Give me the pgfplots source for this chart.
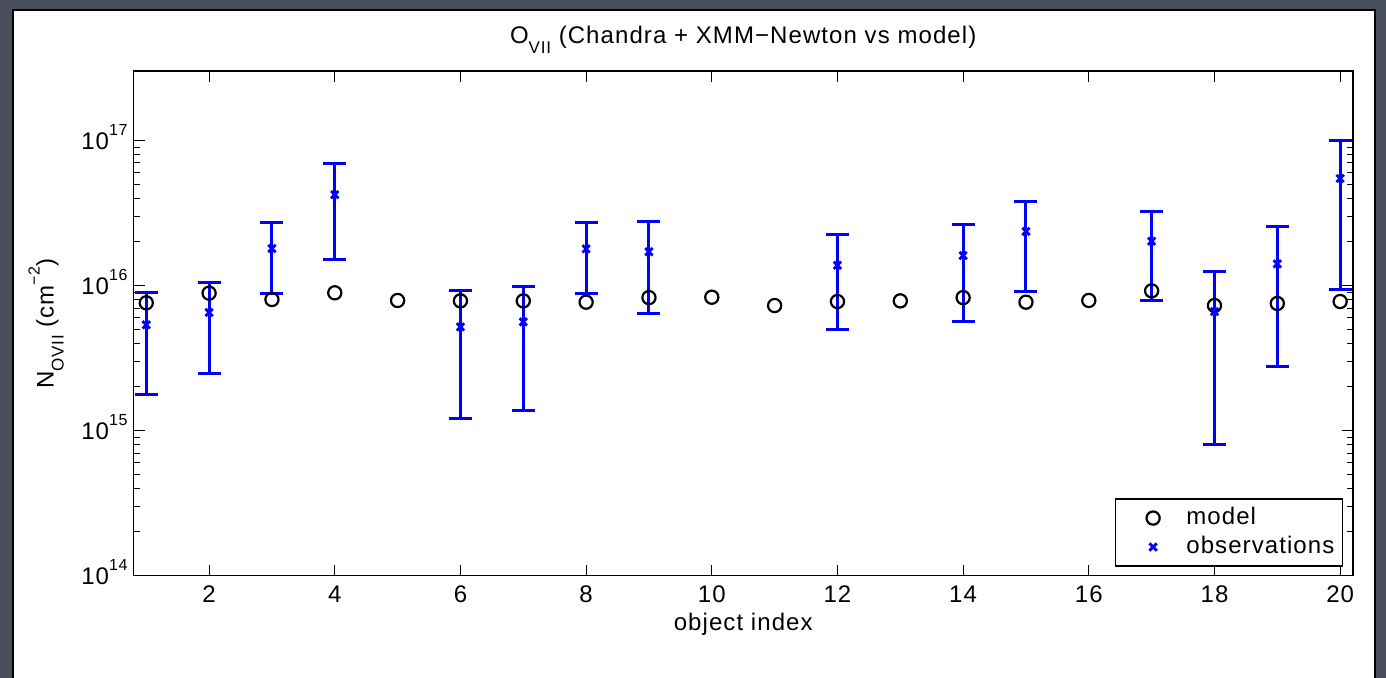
\documentclass[border=0pt]{standalone}
\usepackage{pgfplots}
\pgfplotsset{compat=1.18}
\usepackage{fontspec}
\setmainfont{Liberation Sans}[LetterSpace=4.5]
\definecolor{bgdark}{RGB}{74,79,94}
\definecolor{mblue}{RGB}{0,0,255}
\newcommand{\sps}[1]{\raisebox{7pt}{\fontsize{8}{8}\selectfont #1}}
\newcommand{\sbs}[1]{\raisebox{-5pt}{\fontsize{8.5}{8.5}\selectfont #1}}

\pgfplotstableread{
x y e
1 5.36e15 3.6e15
2 6.52e15 4.05e15
3 1.80e16 9.2e15
4 4.23e16 2.71e16
6 5.19e15 3.98e15
7 5.62e15 4.25e15
8 1.79e16 9.12e15
9 1.71e16 1.0675e16
12 1.38e16 8.81e15
14 1.61e16 1.0425e16
15 2.36e16 1.4525e16
17 2.02e16 1.2365e16
18 6.62e15 5.82e15
19 1.41e16 1.133e16
20 5.47e16 4.535e16
}\obsdata

\begin{document}
\fontsize{12}{14}\selectfont
\begin{tikzpicture}
\useasboundingbox (0,0) rectangle (693pt,339pt);
\fill[bgdark] (0,0) rectangle (693pt,339pt);
\fill[white] (6.5pt,-1pt) rectangle (687.5pt,334pt);
\draw[black, line width=1.2pt] (6.5pt,-1pt) -- (6.5pt,334pt) -- (687.5pt,334pt) -- (687.5pt,-1pt);

\begin{axis}[
  at={(66.85pt,51.15pt)}, anchor=south west,
  scale only axis, width=609.5pt, height=252.2pt,
  ymode=log, xmin=0.8, xmax=20.2, ymin=1e14, ymax=3e17,
  xtick={2,4,...,20}, xticklabels={2,4,6,8,10,12,14,16,18,20},
  ytick={1e14,1e15,1e16,1e17},
  yticklabels={10\sps{14},10\sps{15},10\sps{16},10\sps{17}},
  xtick pos=both, ytick pos=both, tick align=inside,
  major tick length=5.5pt, minor tick length=3pt,
  axis line style={line width=0.8pt, black},
  tick style={line width=0.5pt, black},
  xticklabel style={anchor=base, inner sep=0pt, yshift=-13.65pt},
  yticklabel style={anchor=base east, inner sep=0pt, xshift=-2.85pt, yshift=-4.65pt},
  every axis title shift=0pt,
  title={O\sbs{VII} (Chandra + XMM−Newton vs model)},
  title style={at={(axis description cs:0.5,1.056)}, anchor=base, inner sep=0pt},
  xlabel={object index},
  xlabel style={at={(axis description cs:0.5,-0.109)}, anchor=base, inner sep=0pt},
  ylabel={N\sbs{OVII} (cm\sps{−2})},
  ylabel style={at={(axis description cs:-0.0719,0.5)}, anchor=center, inner sep=0pt},
  legend cell align=left,
  legend style={at={(axis description cs:0.992,0.0178)}, anchor=south east,
    draw=black, line width=0.6pt, inner xsep=4pt, inner ysep=3.95pt,
    row sep=3.4pt, column sep=8.65pt,
    nodes={inner sep=0pt, text height=8.6pt, text depth=2.5pt}},
  legend image code/.code={\path[draw=none,fill=none] (-14.85pt,0pt) -- (8pt,0pt); \draw[#1, only marks] plot coordinates {(0pt,0pt)};},
]
\addplot[only marks, mark=o, mark size=3.3pt, line width=1.1pt, black] coordinates {
(1,7.6e15) (2,8.86e15) (3,8.01e15) (4,8.91e15) (5,7.89e15)
(6,7.84e15) (7,7.84e15) (8,7.68e15) (9,8.26e15) (10,8.31e15)
(11,7.28e15) (12,7.76e15) (13,7.84e15) (14,8.26e15) (15,7.68e15)
(16,7.89e15) (17,9.19e15) (18,7.28e15) (19,7.52e15) (20,7.76e15)
};
\addlegendentry{model}
\addplot[only marks, mark=x, mark size=2.6pt, line width=1.4pt, mblue,
  error bars/.cd, y dir=both, y explicit,
  error bar style={line width=1.5pt, mblue},
  error mark options={rotate=90, mark size=5.75pt, line width=1.5pt, mblue}]
  table[x=x, y=y, y error=e] {\obsdata};
\addlegendentry{observations}
\end{axis}
\end{tikzpicture}
\end{document}
